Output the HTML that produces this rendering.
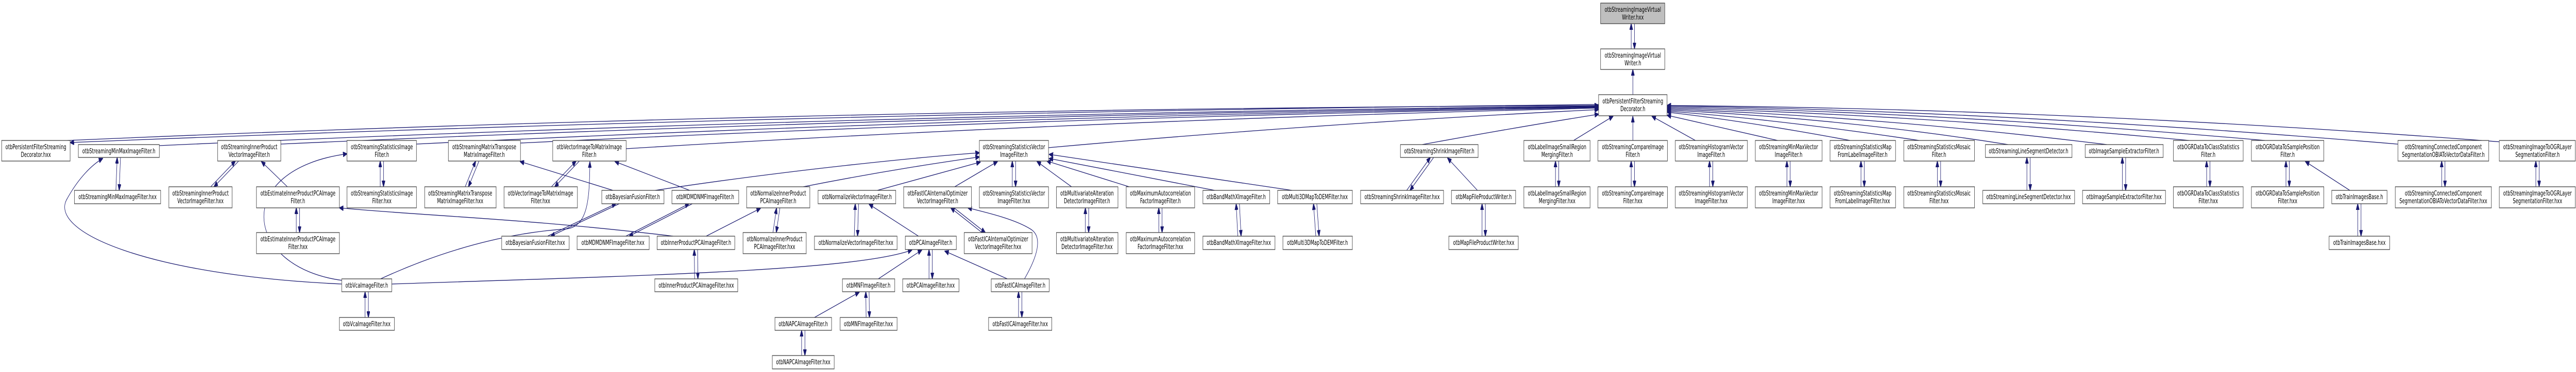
<!DOCTYPE html>
<html><head><meta charset="utf-8">
<style>
html,body{margin:0;padding:0;background:#fff;width:100%;height:100%;overflow:hidden;}
svg{display:block;position:fixed;left:0;top:0;width:100vw;height:100vh;}
rect{fill:#fff;stroke:#404040;stroke-width:1.3;}
text{font-family:"DejaVu Sans","Liberation Sans",sans-serif;font-size:13px;fill:#000;text-anchor:middle;}
path{fill:none;stroke:#191970;stroke-width:1.3;}
</style></head><body>
<svg viewBox="0 0 7825 723" preserveAspectRatio="none" xmlns="http://www.w3.org/2000/svg">
<defs><marker id="a" markerWidth="13" markerHeight="10" refX="12" refY="5" orient="auto" markerUnits="userSpaceOnUse"><path d="M0,0 L13,5 L0,10 z" style="fill:#191970;stroke:#191970;stroke-width:1"/></marker></defs>
<g marker-end="url(#a)">
<path d="M4955,95 L4955,46"/><path d="M4965,46 L4965,95"/>
<path d="M4960,184 L4960,135"/>
<path d="M352,370 L356,306"/><path d="M366,306 L362,370"/>
<path d="M640,363 L715,313"/><path d="M725,313 L650,363"/>
<path d="M900,452 L900,404"/><path d="M910,404 L910,452"/>
<path d="M1155,363 L1155,313"/><path d="M1165,313 L1165,363"/>
<path d="M1413,363 L1445,313"/><path d="M1455,313 L1423,363"/>
<path d="M1675,363 L1750,313"/><path d="M1760,313 L1685,363"/>
<path d="M1663,459 L1871,396"/><path d="M1881,396 L1673,459"/>
<path d="M1901,459 L2093,396"/><path d="M2103,396 L1911,459"/>
<path d="M2348,452 L2359,404"/><path d="M2369,404 L2358,452"/>
<path d="M2595,459 L2598,396"/><path d="M2608,396 L2605,459"/>
<path d="M2110,542 L2109,485"/><path d="M2119,485 L2120,542"/>
<path d="M2822,542 L2822,485"/><path d="M2832,485 L2832,542"/>
<path d="M2631,617 L2630,567"/><path d="M2640,567 L2641,617"/>
<path d="M2435,691 L2435,642"/><path d="M2445,642 L2445,691"/>
<path d="M2983,452 L2888,404"/><path d="M2898,404 L2993,452"/>
<path d="M3075,363 L3075,313"/><path d="M3085,313 L3085,363"/>
<path d="M3094,617 L3094,567"/><path d="M3104,567 L3104,617"/>
<path d="M3297,452 L3297,404"/><path d="M3307,404 L3307,452"/>
<path d="M3520,452 L3520,404"/><path d="M3530,404 L3530,452"/>
<path d="M3760,459 L3755,396"/><path d="M3765,396 L3770,459"/>
<path d="M3997,459 L3990,396"/><path d="M4000,396 L4007,459"/>
<path d="M4273,370 L4345,306"/><path d="M4355,306 L4283,370"/>
<path d="M4502,459 L4502,396"/><path d="M4512,396 L4512,459"/>
<path d="M4725,363 L4725,313"/><path d="M4735,313 L4735,363"/>
<path d="M4955,363 L4955,313"/><path d="M4965,313 L4965,363"/>
<path d="M5193,363 L5193,313"/><path d="M5203,313 L5203,363"/>
<path d="M5428,363 L5428,313"/><path d="M5438,313 L5438,363"/>
<path d="M5653,363 L5653,313"/><path d="M5663,313 L5663,363"/>
<path d="M5885,363 L5885,313"/><path d="M5895,313 L5895,363"/>
<path d="M6157,370 L6157,306"/><path d="M6167,306 L6167,370"/>
<path d="M6447,370 L6447,306"/><path d="M6457,306 L6457,370"/>
<path d="M6703,363 L6703,313"/><path d="M6713,313 L6713,363"/>
<path d="M6944,363 L6944,313"/><path d="M6954,313 L6954,363"/>
<path d="M7162,459 L7162,396"/><path d="M7172,396 L7172,459"/>
<path d="M7417,363 L7417,313"/><path d="M7427,313 L7427,363"/>
<path d="M7703,363 L7703,313"/><path d="M7713,313 L7713,363"/>
<path d="M1109,617 L1109,567"/><path d="M1119,567 L1119,617"/>
<path d="M4856,203 Q2400,220 213,277"/>
<path d="M205,273 Q2400,212 4856,205"/>
<path d="M484,283 Q2600,222 4856,206"/>
<path d="M853,280 Q2800,224 4856,207"/>
<path d="M1265,280 Q3000,226 4856,208"/>
<path d="M1581,278 Q3200,228 4856,209"/>
<path d="M1902,289 Q3300,234 4856,210"/>
<path d="M3185,287 Q4000,240 4856,213"/>
<path d="M4320,281 Q4600,248 4856,222"/>
<path d="M4780,273 L4900,226"/>
<path d="M4960,273 L4960,226"/>
<path d="M5150,273 L5018,226"/>
<path d="M5400,273 L5064,224"/>
<path d="M5620,273 Q5300,235 5064,218"/>
<path d="M5830,273 Q5400,232 5064,216"/>
<path d="M6100,281 Q5600,230 5064,214"/>
<path d="M6400,281 Q5700,226 5064,212"/>
<path d="M6650,273 Q5800,222 5064,210"/>
<path d="M6880,273 Q5900,218 5064,208"/>
<path d="M7300,281 Q6100,216 5064,206"/>
<path d="M7600,276 Q6300,212 5064,205"/>
<path d="M1038,552 C450,535 140,450 205,385 C240,345 280,320 312,308"/>
<path d="M1040,545 C740,520 700,330 1054,299"/>
<path d="M873,363 L794,314"/>
<path d="M2045,459 C1600,425 1300,420 1031,404"/>
<path d="M1156,542 C1400,470 1600,450 1720,445 C1790,440 1790,380 1792,314"/>
<path d="M1190,552 C2000,535 2600,525 2770,486"/>
<path d="M1862,370 L1580,314"/>
<path d="M2095,370 L1868,314"/>
<path d="M2145,459 L2310,405"/>
<path d="M2790,459 L2640,397"/>
<path d="M2668,542 L2800,486"/>
<path d="M2474,617 L2610,568"/>
<path d="M3060,542 L2870,488"/>
<path d="M3112,542 C3150,500 3170,460 3130,445 C3080,425 2990,412 2940,404"/>
<path d="M2900,363 L3030,314"/>
<path d="M1990,370 C2400,330 2800,305 2975,297"/>
<path d="M2440,363 C2700,330 2900,312 2975,305"/>
<path d="M2665,370 L2978,315"/>
<path d="M3255,363 L3150,314"/>
<path d="M3430,363 L3180,313"/>
<path d="M3690,370 L3187,308"/>
<path d="M3925,370 L3187,300"/>
<path d="M4488,370 L4397,307"/>
<path d="M7138,370 L7003,314"/>
</g>
<rect x="4862" y="6" width="195" height="40" style="fill:#bfbfbf"/><text x="4960" y="23">otbStreamingImageVirtual</text><text x="4960" y="38">Writer.hxx</text>
<rect x="4862" y="95" width="195" height="40"/><text x="4960" y="112">otbStreamingImageVirtual</text><text x="4960" y="127">Writer.h</text>
<rect x="4856" y="184" width="208" height="41"/><text x="4960" y="201">otbPersistentFilterStreaming</text><text x="4960" y="216">Decorator.h</text>

<rect x="5" y="273" width="208" height="40"/><text x="109" y="290">otbPersistentFilterStreaming</text><text x="109" y="305">Decorator.hxx</text>
<rect x="238" y="281" width="246" height="25"/><text x="361" y="298">otbStreamingMinMaxImageFilter.h</text>
<rect x="661" y="273" width="192" height="40"/><text x="757" y="290">otbStreamingInnerProduct</text><text x="757" y="305">VectorImageFilter.h</text>
<rect x="1054" y="273" width="211" height="40"/><text x="1160" y="290">otbStreamingStatisticsImage</text><text x="1160" y="305">Filter.h</text>
<rect x="1362" y="273" width="219" height="40"/><text x="1471" y="290">otbStreamingMatrixTranspose</text><text x="1471" y="305">MatrixImageFilter.h</text>
<rect x="1679" y="273" width="223" height="40"/><text x="1790" y="290">otbVectorImageToMatrixImage</text><text x="1790" y="305">Filter.h</text>
<rect x="2975" y="273" width="210" height="40"/><text x="3080" y="290">otbStreamingStatisticsVector</text><text x="3080" y="305">ImageFilter.h</text>
<rect x="4254" y="281" width="236" height="25"/><text x="4372" y="298">otbStreamingShrinkImageFilter.h</text>
<rect x="4629" y="273" width="201" height="40"/><text x="4730" y="290">otbLabelImageSmallRegion</text><text x="4730" y="305">MergingFilter.h</text>
<rect x="4854" y="273" width="211" height="40"/><text x="4960" y="290">otbStreamingCompareImage</text><text x="4960" y="305">Filter.h</text>
<rect x="5089" y="273" width="219" height="40"/><text x="5198" y="290">otbStreamingHistogramVector</text><text x="5198" y="305">ImageFilter.h</text>
<rect x="5332" y="273" width="203" height="40"/><text x="5433" y="290">otbStreamingMinMaxVector</text><text x="5433" y="305">ImageFilter.h</text>
<rect x="5559" y="273" width="199" height="40"/><text x="5658" y="290">otbStreamingStatisticsMap</text><text x="5658" y="305">FromLabelImageFilter.h</text>
<rect x="5783" y="273" width="215" height="40"/><text x="5890" y="290">otbStreamingStatisticsMosaic</text><text x="5890" y="305">Filter.h</text>
<rect x="6031" y="281" width="263" height="25"/><text x="6162" y="298">otbStreamingLineSegmentDetector.h</text>
<rect x="6334" y="281" width="237" height="25"/><text x="6452" y="298">otbImageSampleExtractorFilter.h</text>
<rect x="6602" y="273" width="212" height="40"/><text x="6708" y="290">otbOGRDataToClassStatistics</text><text x="6708" y="305">Filter.h</text>
<rect x="6839" y="273" width="220" height="40"/><text x="6949" y="290">otbOGRDataToSamplePosition</text><text x="6949" y="305">Filter.h</text>
<rect x="7284" y="273" width="276" height="40"/><text x="7422" y="290">otbStreamingConnectedComponent</text><text x="7422" y="305">SegmentationOBIAToVectorDataFilter.h</text>
<rect x="7592" y="273" width="231" height="40"/><text x="7708" y="290">otbStreamingImageToOGRLayer</text><text x="7708" y="305">SegmentationFilter.h</text>

<rect x="226" y="370" width="262" height="26"/><text x="357" y="387">otbStreamingMinMaxImageFilter.hxx</text>
<rect x="513" y="363" width="192" height="41"/><text x="609" y="380">otbStreamingInnerProduct</text><text x="609" y="395">VectorImageFilter.hxx</text>
<rect x="779" y="363" width="252" height="41"/><text x="905" y="380">otbEstimateInnerProductPCAImage</text><text x="905" y="395">Filter.h</text>
<rect x="1054" y="363" width="211" height="41"/><text x="1160" y="380">otbStreamingStatisticsImage</text><text x="1160" y="395">Filter.hxx</text>
<rect x="1290" y="363" width="217" height="41"/><text x="1398" y="380">otbStreamingMatrixTranspose</text><text x="1398" y="395">MatrixImageFilter.hxx</text>
<rect x="1531" y="363" width="223" height="41"/><text x="1642" y="380">otbVectorImageToMatrixImage</text><text x="1642" y="395">Filter.hxx</text>
<rect x="1828" y="370" width="189" height="26"/><text x="1922" y="387">otbBayesianFusionFilter.h</text>
<rect x="2041" y="370" width="203" height="26"/><text x="2142" y="387">otbMDMDNMFImageFilter.h</text>
<rect x="2268" y="363" width="192" height="41"/><text x="2364" y="380">otbNormalizeInnerProduct</text><text x="2364" y="395">PCAImageFilter.h</text>
<rect x="2485" y="370" width="236" height="26"/><text x="2603" y="387">otbNormalizeVectorImageFilter.h</text>
<rect x="2745" y="363" width="206" height="41"/><text x="2848" y="380">otbFastICAInternalOptimizer</text><text x="2848" y="395">VectorImageFilter.h</text>
<rect x="2975" y="363" width="210" height="41"/><text x="3080" y="380">otbStreamingStatisticsVector</text><text x="3080" y="395">ImageFilter.hxx</text>
<rect x="3209" y="363" width="187" height="41"/><text x="3302" y="380">otbMultivariateAlteration</text><text x="3302" y="395">DetectorImageFilter.h</text>
<rect x="3421" y="363" width="208" height="41"/><text x="3525" y="380">otbMaximumAutocorrelation</text><text x="3525" y="395">FactorImageFilter.h</text>
<rect x="3654" y="370" width="203" height="26"/><text x="3755" y="387">otbBandMathXImageFilter.h</text>
<rect x="3881" y="370" width="227" height="26"/><text x="3994" y="387">otbMulti3DMapToDEMFilter.hxx</text>
<rect x="4133" y="370" width="252" height="26"/><text x="4259" y="387">otbStreamingShrinkImageFilter.hxx</text>
<rect x="4409" y="370" width="195" height="26"/><text x="4507" y="387">otbMapFileProductWriter.h</text>
<rect x="4629" y="363" width="201" height="41"/><text x="4730" y="380">otbLabelImageSmallRegion</text><text x="4730" y="395">MergingFilter.hxx</text>
<rect x="4854" y="363" width="211" height="41"/><text x="4960" y="380">otbStreamingCompareImage</text><text x="4960" y="395">Filter.hxx</text>
<rect x="5089" y="363" width="219" height="41"/><text x="5198" y="380">otbStreamingHistogramVector</text><text x="5198" y="395">ImageFilter.hxx</text>
<rect x="5332" y="363" width="203" height="41"/><text x="5433" y="380">otbStreamingMinMaxVector</text><text x="5433" y="395">ImageFilter.hxx</text>
<rect x="5559" y="363" width="199" height="41"/><text x="5658" y="380">otbStreamingStatisticsMap</text><text x="5658" y="395">FromLabelImageFilter.hxx</text>
<rect x="5783" y="363" width="215" height="41"/><text x="5890" y="380">otbStreamingStatisticsMosaic</text><text x="5890" y="395">Filter.hxx</text>
<rect x="6023" y="370" width="279" height="26"/><text x="6162" y="387">otbStreamingLineSegmentDetector.hxx</text>
<rect x="6326" y="370" width="252" height="26"/><text x="6452" y="387">otbImageSampleExtractorFilter.hxx</text>
<rect x="6602" y="363" width="212" height="41"/><text x="6708" y="380">otbOGRDataToClassStatistics</text><text x="6708" y="395">Filter.hxx</text>
<rect x="6839" y="363" width="220" height="41"/><text x="6949" y="380">otbOGRDataToSamplePosition</text><text x="6949" y="395">Filter.hxx</text>
<rect x="7083" y="370" width="168" height="26"/><text x="7167" y="387">otbTrainImagesBase.h</text>
<rect x="7276" y="363" width="292" height="41"/><text x="7422" y="380">otbStreamingConnectedComponent</text><text x="7422" y="395">SegmentationOBIAToVectorDataFilter.hxx</text>
<rect x="7592" y="363" width="231" height="41"/><text x="7708" y="380">otbStreamingImageToOGRLayer</text><text x="7708" y="395">SegmentationFilter.hxx</text>

<rect x="779" y="452" width="252" height="41"/><text x="905" y="469">otbEstimateInnerProductPCAImage</text><text x="905" y="484">Filter.hxx</text>
<rect x="1524" y="459" width="205" height="26"/><text x="1626" y="476">otbBayesianFusionFilter.hxx</text>
<rect x="1753" y="459" width="219" height="26"/><text x="1862" y="476">otbMDMDNMFImageFilter.hxx</text>
<rect x="1996" y="459" width="236" height="26"/><text x="2114" y="476">otbInnerProductPCAImageFilter.h</text>
<rect x="2257" y="452" width="192" height="41"/><text x="2353" y="469">otbNormalizeInnerProduct</text><text x="2353" y="484">PCAImageFilter.hxx</text>
<rect x="2474" y="459" width="251" height="26"/><text x="2600" y="476">otbNormalizeVectorImageFilter.hxx</text>
<rect x="2750" y="459" width="155" height="26"/><text x="2827" y="476">otbPCAImageFilter.h</text>
<rect x="2929" y="452" width="206" height="41"/><text x="3032" y="469">otbFastICAInternalOptimizer</text><text x="3032" y="484">VectorImageFilter.hxx</text>
<rect x="3209" y="452" width="187" height="41"/><text x="3302" y="469">otbMultivariateAlteration</text><text x="3302" y="484">DetectorImageFilter.hxx</text>
<rect x="3421" y="452" width="208" height="41"/><text x="3525" y="469">otbMaximumAutocorrelation</text><text x="3525" y="484">FactorImageFilter.hxx</text>
<rect x="3654" y="459" width="219" height="26"/><text x="3763" y="476">otbBandMathXImageFilter.hxx</text>
<rect x="3897" y="459" width="211" height="26"/><text x="4002" y="476">otbMulti3DMapToDEMFilter.h</text>
<rect x="4401" y="459" width="211" height="26"/><text x="4507" y="476">otbMapFileProductWriter.hxx</text>
<rect x="7075" y="459" width="184" height="26"/><text x="7167" y="476">otbTrainImagesBase.hxx</text>

<rect x="1038" y="542" width="152" height="25"/><text x="1114" y="559">otbVcaImageFilter.h</text>
<rect x="1989" y="542" width="252" height="25"/><text x="2115" y="559">otbInnerProductPCAImageFilter.hxx</text>
<rect x="2559" y="542" width="159" height="25"/><text x="2638" y="559">otbMNFImageFilter.h</text>
<rect x="2742" y="542" width="171" height="25"/><text x="2827" y="559">otbPCAImageFilter.hxx</text>
<rect x="3011" y="542" width="176" height="25"/><text x="3099" y="559">otbFastICAImageFilter.h</text>

<rect x="1031" y="617" width="167" height="25"/><text x="1114" y="634">otbVcaImageFilter.hxx</text>
<rect x="2354" y="617" width="172" height="25"/><text x="2440" y="634">otbNAPCAImageFilter.h</text>
<rect x="2552" y="617" width="173" height="25"/><text x="2638" y="634">otbMNFImageFilter.hxx</text>
<rect x="3003" y="617" width="192" height="25"/><text x="3099" y="634">otbFastICAImageFilter.hxx</text>

<rect x="2346" y="691" width="188" height="26"/><text x="2440" y="708">otbNAPCAImageFilter.hxx</text>
</svg>
</body></html>
